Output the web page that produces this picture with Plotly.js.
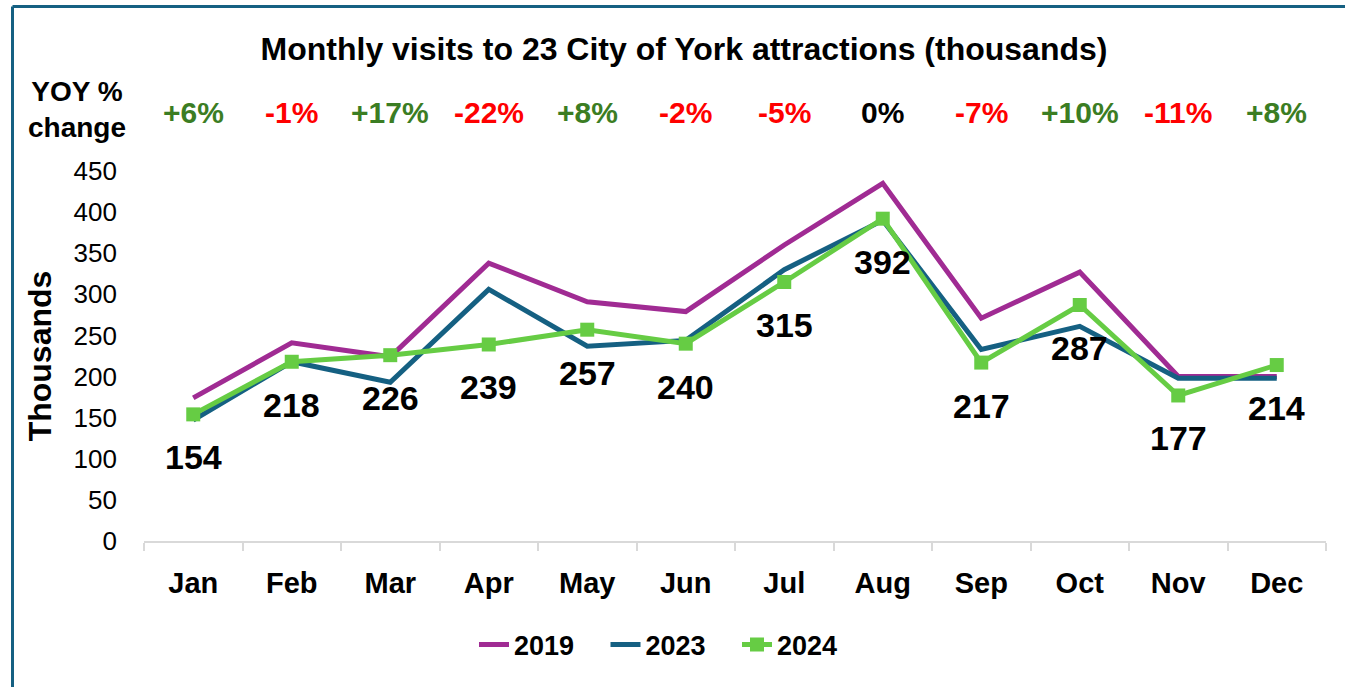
<!DOCTYPE html>
<html>
<head>
<meta charset="utf-8">
<script src="https://cdn.plot.ly/plotly-3.0.1.min.js"></script>
<style>
html,body{margin:0;padding:0;background:#fff;}
#chart{width:1345px;height:687px;}
</style>
</head>
<body>
<div id="chart"></div>
<script>
const months = ["Jan","Feb","Mar","Apr","May","Jun","Jul","Aug","Sep","Oct","Nov","Dec"];
const visits2019 = [174,241,224,338,291,279,360,435,271,327,200,200];
const visits2023 = [147,218,193,306,237,244,330,390,233,261,198,198];
const visits2024 = [154,218,226,239,257,240,315,392,217,287,177,214];
const yoyLabels = ["+6%","-1%","+17%","-22%","+8%","-2%","-5%","0%","-7%","+10%","-11%","+8%"];
const yoyColours = ["#3B7D23","#FF0000","#3B7D23","#FF0000","#3B7D23","#FF0000","#FF0000","#000000","#FF0000","#3B7D23","#FF0000","#3B7D23"];

const FONT = "Liberation Sans, Arial, sans-serif";
const L = 144, R = 19, T = 171, B = 146;
const W = 1345, H = 687;
const pw = W - L - R, ph = H - T - B;
const px = v => (v - L) / pw;
const py = v => (H - B - v) / ph;

const traces = [
  {name:"2019", x:months, y:visits2019, type:"scatter", mode:"lines",
   line:{color:"#A02B93", width:5}},
  {name:"2023", x:months, y:visits2023, type:"scatter", mode:"lines",
   line:{color:"#156082", width:5}},
  {name:"2024", x:months, y:visits2024, type:"scatter", mode:"lines+markers",
   line:{color:"#66CC44", width:5}, marker:{symbol:"square", size:14, color:"#66CC44"}}
];

const annotations = [];
months.forEach((m,i) => {
  annotations.push({x:m, y:visits2024[i], xref:"x", yref:"y", text:String(visits2024[i]),
    showarrow:false, yshift:-43, font:{family:FONT, size:34, color:"#000", weight:700}});
  annotations.push({x:m, y:py(112), xref:"x", yref:"paper", text:yoyLabels[i],
    showarrow:false, yanchor:"middle", font:{family:FONT, size:30, color:yoyColours[i], weight:700}});
});
annotations.push({x:px(77), y:py(110), xref:"paper", yref:"paper", text:"YOY %<br>change",
  showarrow:false, xanchor:"center", yanchor:"middle", align:"center",
  font:{family:FONT, size:28, color:"#000", weight:700}});

const layout = {
  width:W, height:H,
  margin:{l:L, r:R, t:T, b:B},
  paper_bgcolor:"#fff", plot_bgcolor:"#fff",
  title:{text:"Monthly visits to 23 City of York attractions (thousands)",
    x:px(684), xref:"paper", xanchor:"center", y:1-49/H, yref:"container", yanchor:"middle",
    font:{family:FONT, size:32, color:"#000", weight:700}},
  showlegend:true,
  legend:{orientation:"h", x:px(474), xanchor:"left", y:py(645), yanchor:"middle",
    entrywidth:86.5, entrywidthmode:"pixels",
    font:{family:FONT, size:27, color:"#000", weight:700}, bgcolor:"rgba(0,0,0,0)"},
  xaxis:{type:"category", range:[-0.5, 11.5], autorange:false, showgrid:false, zeroline:false,
    showline:true, linecolor:"#D9D9D9", linewidth:2,
    ticks:"outside", tickson:"boundaries", ticklen:8, tickcolor:"#D9D9D9", tickwidth:2,
    tickfont:{family:FONT, size:29, color:"#000", weight:700}, ticklabelstandoff:15},
  yaxis:{range:[0,450], dtick:50, showgrid:false, zeroline:false, showline:false, ticks:"",
    tickfont:{family:FONT, size:26, color:"#000"}, ticklabelstandoff:26,
    title:{text:"Thousands", font:{family:FONT, size:32, color:"#000", weight:700}, standoff:12}},
  annotations:annotations,
  shapes:[
    {type:"line", xref:"paper", yref:"paper", x0:px(12.5), x1:px(12.5), y0:py(6.5), y1:py(700),
     line:{color:"#156082", width:3}},
    {type:"line", xref:"paper", yref:"paper", x0:px(12.5), x1:px(1360), y0:py(6.5), y1:py(6.5),
     line:{color:"#156082", width:3}}
  ]
};

Plotly.newPlot("chart", traces, layout, {staticPlot:true, displayModeBar:false});
</script>
</body>
</html>
